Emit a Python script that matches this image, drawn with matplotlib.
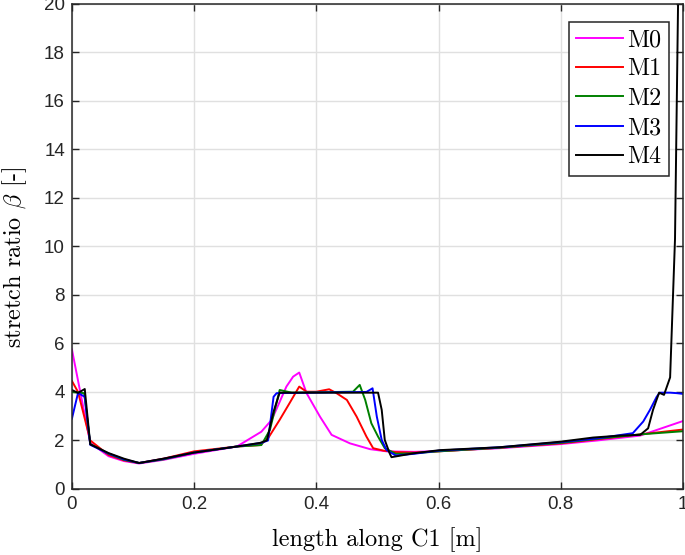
import numpy as np
import matplotlib
matplotlib.use("Agg")
import matplotlib.pyplot as plt

plt.rcParams['mathtext.fontset'] = 'cm'
plt.rcParams['font.family'] = ['Liberation Sans', 'DejaVu Sans']

# values
x0 = [0, 0.03, 0.06, 0.085, 0.11, 0.15, 0.2, 0.27, 0.31, 0.327, 0.351, 0.362, 0.372, 0.384,
      0.406, 0.425, 0.455, 0.488, 0.515, 0.56, 0.6, 0.7, 0.8, 0.86, 0.93, 1.0]
y0 = [5.75, 1.9, 1.35, 1.15, 1.05, 1.2, 1.45, 1.75, 2.36, 2.85, 4.22, 4.63, 4.8, 3.95,
      2.98, 2.23, 1.88, 1.64, 1.55, 1.53, 1.56, 1.68, 1.85, 2.0, 2.2, 2.8]

x1 = [0, 0.01, 0.03, 0.06, 0.085, 0.11, 0.15, 0.2, 0.27, 0.308, 0.321, 0.34, 0.356, 0.372,
      0.384, 0.4, 0.421, 0.433, 0.45, 0.466, 0.482, 0.493, 0.51, 0.53, 0.56, 0.6, 0.7, 0.8,
      0.86, 0.93, 1.0]
y1 = [4.45, 4.0, 2.0, 1.4, 1.18, 1.07, 1.25, 1.55, 1.75, 1.81, 2.09, 2.85, 3.53, 4.22,
      4.01, 4.01, 4.11, 3.95, 3.67, 2.98, 2.16, 1.68, 1.58, 1.52, 1.5, 1.55, 1.7, 1.88,
      2.05, 2.25, 2.45]

x2 = [0, 0.02, 0.03, 0.06, 0.085, 0.11, 0.15, 0.2, 0.27, 0.31, 0.324, 0.332, 0.34, 0.36,
      0.46, 0.471, 0.48, 0.49, 0.501, 0.512, 0.53, 0.56, 0.6, 0.7, 0.8, 0.86, 0.93, 1.0]
y2 = [4.0, 3.95, 1.85, 1.45, 1.2, 1.07, 1.22, 1.5, 1.75, 1.81, 2.43, 3.26, 4.08, 3.97,
      4.01, 4.29, 3.67, 2.71, 2.16, 1.68, 1.45, 1.47, 1.55, 1.7, 1.9, 2.07, 2.25, 2.38]

x3 = [0, 0.01, 0.021, 0.03, 0.06, 0.085, 0.11, 0.15, 0.2, 0.27, 0.31, 0.321, 0.33, 0.335,
      0.482, 0.492, 0.499, 0.507, 0.515, 0.53, 0.56, 0.6, 0.7, 0.8, 0.864, 0.918, 0.935,
      0.946, 0.957, 0.962, 0.979, 0.99, 1.0]
y3 = [2.9, 3.96, 3.8, 1.82, 1.46, 1.22, 1.07, 1.24, 1.5, 1.75, 1.9, 2.0, 3.8, 3.95,
      4.0, 4.15, 2.98, 2.02, 1.6, 1.38, 1.45, 1.58, 1.72, 1.93, 2.1, 2.3, 2.78,
      3.26, 3.8, 3.97, 3.97, 3.95, 3.92]

x4 = [0, 0.01, 0.021, 0.03, 0.06, 0.085, 0.11, 0.15, 0.2, 0.27, 0.308, 0.319, 0.33, 0.34,
      0.501, 0.507, 0.512, 0.52, 0.523, 0.559, 0.602, 0.7, 0.8, 0.853, 0.897, 0.93, 0.943,
      0.951, 0.961, 0.969, 0.979, 0.987, 0.992, 1.0]
y4 = [4.08, 3.96, 4.12, 1.84, 1.48, 1.25, 1.07, 1.25, 1.5, 1.75, 1.9, 2.0, 3.19, 3.97,
      3.97, 3.26, 2.02, 1.47, 1.31, 1.47, 1.6, 1.72, 1.95, 2.12, 2.2, 2.23, 2.5,
      3.26, 3.97, 3.88, 4.6, 10.3, 20.0, 30.0]

names = ['M0', 'M1', 'M2', 'M3', 'M4']
colors = ['#ff00ff', '#ff0000', '#008000', '#0000ff', '#000000']
xs = [x0, x1, x2, x3, x4]
ys = [y0, y1, y2, y3, y4]

fig = plt.figure(figsize=(6.85, 5.55), dpi=100)
ax = fig.add_axes([0.105, 0.119, 0.892, 0.874])

for x, y, c, n in zip(xs, ys, colors, names):
    ax.plot(x, y, color=c, lw=1.4, label=n)

ax.set_xlim(0, 1)
ax.set_ylim(0, 20)
ax.set_xticks(np.arange(0, 1.01, 0.2))
ax.set_xticklabels(['0', '0.2', '0.4', '0.6', '0.8', '1'])
ax.set_yticks(np.arange(0, 21, 2))
ax.grid(True, color='#e0e0e0', lw=1)
ax.set_axisbelow(True)
ax.tick_params(direction='in', top=True, right=True, labelsize=13.5, length=5, width=1,
               colors='#262626', pad=5)
for s in ax.spines.values():
    s.set_linewidth(1.1)
    s.set_color('#262626')

ax.set_xlabel('length along C1 [m]', fontfamily='cmr10', fontsize=17.5, labelpad=10)
ax.set_ylabel('stretch ratio $\\beta$ [-]', fontfamily='cmr10', fontsize=17.5)
ax.yaxis.set_label_coords(-0.07, 0.478)

leg = ax.legend(loc='upper right', bbox_to_anchor=(0.977, 0.963),
                prop={'family': 'cmr10', 'size': 17.3}, fancybox=False,
                edgecolor='#262626', framealpha=1, handlelength=1.95,
                handletextpad=0.17, borderpad=0.3, labelspacing=0.3,
                borderaxespad=0)
leg.get_frame().set_linewidth(1.1)

fig.savefig('out.png', dpi=100)
